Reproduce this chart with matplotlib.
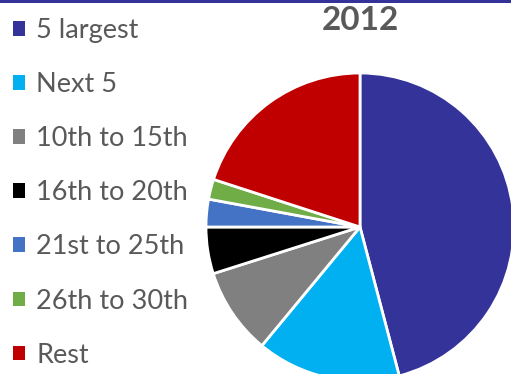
import matplotlib
matplotlib.use('Agg')
import matplotlib.pyplot as plt
from matplotlib.patches import Rectangle

# 数据
labels = ['5 largest', 'Next 5', '10th to 15th', '16th to 20th',
          '21st to 25th', '26th to 30th', 'Rest']
shares = [45.9, 15.1, 9.1, 4.9, 2.9, 2.1, 20.0]
colors = ['#333399', '#00b0f0', '#808080', '#000000',
          '#4472c4', '#70ad47', '#c00000']
title = '2012'

W, H = 511, 374
fig = plt.figure(figsize=(W / 100, H / 100), dpi=100)
ax = fig.add_axes([0, 0, 1, 1])

wedges, _ = ax.pie(shares, colors=colors, startangle=90, counterclock=False,
                   wedgeprops=dict(edgecolor='white', linewidth=2))

# 饼图位置 (像素)
cx, cy, r = 360, 227, 154
ax.set_xlim(-cx / r, (W - cx) / r)
ax.set_ylim(-(H - cy) / r, cy / r)
ax.set_aspect('auto')
ax.axis('off')

fig.text(cx / W, 1 - 6 / H, title, ha='center', va='top', fontsize=24,
         fontweight='bold', color='#595959', family='Lato')

leg = fig.legend(wedges, labels, loc='upper left',
                 bbox_to_anchor=(0.0, 1 - 5 / H),
                 frameon=False, prop={'family': 'Lato', 'size': 19.5},
                 labelcolor='#595959', handlelength=0.46, handleheight=0.46,
                 handletextpad=0.4, labelspacing=1.075, borderaxespad=0.1,
                 borderpad=0.38)
for h in leg.legend_handles:
    h.set_edgecolor('none')

# 顶部边框线
fig.add_artist(Rectangle((0, 1 - 2.5 / H), 1, 2.5 / H, transform=fig.transFigure,
                         facecolor='#333399', edgecolor='none'))

fig.savefig('out.png', dpi=100)
